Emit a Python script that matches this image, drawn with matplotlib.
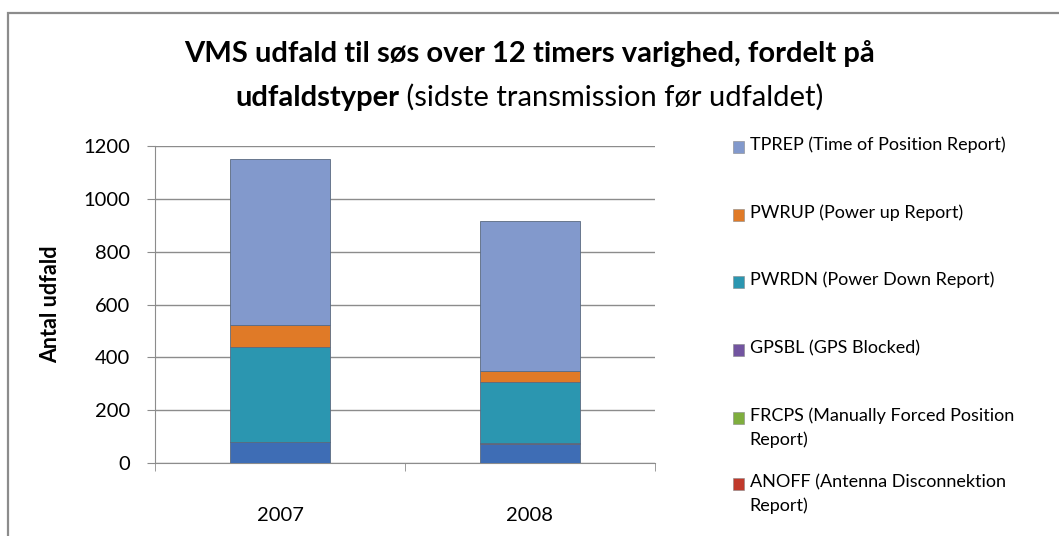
import matplotlib.pyplot as plt
from matplotlib.patches import Rectangle
import numpy as np

plt.rcParams['font.family'] = ['Lato', 'DejaVu Sans']

years = ['2007', '2008']

# stacked from the bottom up (lowest series has no visible legend entry)
series_names = ['', 'ANOFF (Antenna Disconnektion\nReport)',
                'FRCPS (Manually Forced Position\nReport)', 'GPSBL (GPS Blocked)',
                'PWRDN (Power Down Report)', 'PWRUP (Power up Report)',
                'TPREP (Time of Position Report)']
other = [78, 72]
anoff = [3, 3]
frcps = [0, 0]
gpsbl = [0, 0]
pwrdn = [359, 233]
pwrup = [82, 41]
tprep = [628, 566]

colors = ['#3e6db5', '#c0392b', '#7fae3e', '#7254a0', '#2b96b0', '#e07a27', '#8299cc']

fig = plt.figure(figsize=(10.59, 5.36), dpi=100)
ax = fig.add_axes([0.1464, 0.1362, 0.472, 0.5914])

x = np.arange(len(years))
bottom = np.zeros(len(years))
for vals, c in zip([other, anoff, frcps, gpsbl, pwrdn, pwrup, tprep], colors):
    ax.bar(x, vals, 0.4, bottom=bottom, color=c, edgecolor='#5a6a80', linewidth=0.6, zorder=3)
    bottom += np.array(vals)

ax.set_xlim(-0.5, 1.5)
ax.set_ylim(0, 1200)
ax.set_yticks(range(0, 1201, 200))
ax.yaxis.grid(True, color='#8c8c8c', linewidth=1)
ax.set_axisbelow(True)
ax.set_xticks(x)
ax.set_xticklabels(years)
ax.set_xticks([-0.5, 0.5, 1.5], minor=True)
ax.tick_params(axis='x', which='major', length=0, labelsize=14.5, pad=32)
ax.tick_params(axis='x', which='minor', length=6, color='#8c8c8c')
ax.tick_params(axis='y', length=6, color='#8c8c8c', labelsize=14.5, pad=12)
for s in ['top', 'right']:
    ax.spines[s].set_visible(False)
ax.spines['left'].set_color('#8c8c8c')
ax.spines['bottom'].set_color('#8c8c8c')
ax.set_ylabel('Antal udfald', fontsize=15.5, fontweight='bold', labelpad=16)

# title: first line bold, second line partly bold
fig.text(0.5, 0.9, 'VMS udfald til søs over 12 timers varighed, fordelt på',
         ha='center', va='center', fontsize=21, fontweight='bold')
rest = ' (sidste transmission før udfaldet)'
t1 = fig.text(0.5, 0.818, 'udfaldstyper', ha='right', va='center',
              fontsize=21, fontweight='bold')
fig.canvas.draw()
r = fig.canvas.get_renderer()
w1 = t1.get_window_extent(r).width
tmp = fig.text(0, 0, rest, fontsize=21)
w2 = tmp.get_window_extent(r).width
tmp.remove()
xs = 0.5 + (w1 - w2) / 2 / fig.bbox.width
t1.set_x(xs)
fig.text(xs, 0.818, rest, ha='left', va='center', fontsize=21)

# legend, listed top to bottom
ly = [0.726, 0.599, 0.474, 0.347, 0.22, 0.097]
for i, yy in enumerate(ly):
    idx = len(series_names) - 1 - i
    fig.patches.append(Rectangle((0.692, yy - 0.011), 0.011, 0.022, transform=fig.transFigure,
                                 facecolor=colors[idx], edgecolor='#888888', linewidth=0.4))
    fig.text(0.708, yy + 0.019, series_names[idx], ha='left', va='top', fontsize=13,
             linespacing=1.55)

fig.patches.append(Rectangle((0.008, -0.05), 1.1, 1.026, transform=fig.transFigure,
                             fill=False, edgecolor='#8c8c8c', linewidth=1.6))

fig.savefig('out.png', dpi=100)
